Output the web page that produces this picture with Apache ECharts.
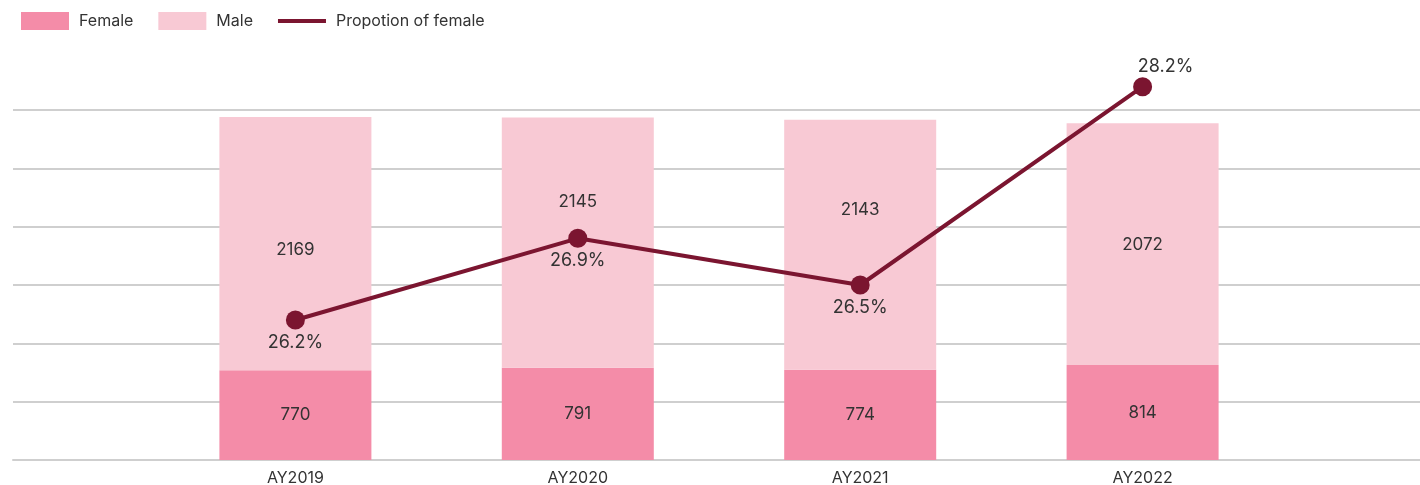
<!DOCTYPE html>
<html>
<head>
<meta charset="utf-8">
<title>Female / Male</title>
<script src="https://cdn.jsdelivr.net/npm/echarts@6/dist/echarts.min.js"></script>
<style>
  html, body { margin: 0; padding: 0; background: #fff; }
  #chart { width: 1420px; height: 485px; }
</style>
</head>
<body>
<div id="chart"></div>
<script>
const years = ['AY2019', 'AY2020', 'AY2021', 'AY2022']
const female = [770, 791, 774, 814]
const male = [2169, 2145, 2143, 2072]
const femaleShare = [26.2, 26.9, 26.5, 28.2]

// male labels are nudged so they don't sit on the line
const maleLabelShift = [6, -41, -35, 1]
const shareLabelPos = ['bottom', 'bottom', 'bottom', 'top']
const shareLabelShift = [[0, 0], [0, 0], [0, 0], [23, 2]]

const font = 'Inter, Liberation Sans, Arial, sans-serif'
const pad = (arr) => ['-', ...arr, '-']

const chart = echarts.init(document.getElementById('chart'))
chart.setOption({
  animation: false,
  textStyle: { fontFamily: font },
  legend: {
    left: 21,
    top: 12,
    padding: 0,
    itemWidth: 48,
    itemHeight: 18,
    itemGap: 25,
    textStyle: { fontSize: 16, color: '#333', padding: [0, 0, 0, 5] },
    data: [
      { name: 'Female', icon: 'rect' },
      { name: 'Male', icon: 'rect' },
      { name: 'Propotion of female', icon: 'path://M0,0 L48,0 L48,4 L0,4 Z' },
    ],
  },
  grid: {
    left: 13,
    right: -5,
    top: 110,
    bottom: 25,
    containLabel: false,
    outerBoundsMode: 'none',
  },
  xAxis: {
    type: 'category',
    boundaryGap: false,
    data: ['', ...years, ''],
    axisLine: { lineStyle: { color: '#cfcfcf', width: 2 } },
    axisTick: { show: false },
    axisLabel: { interval: 0, color: '#333', fontSize: 16, margin: 10 },
  },
  yAxis: [
    {
      type: 'value',
      min: 0,
      max: 3000,
      interval: 500,
      axisLabel: { show: false },
      axisLine: { show: false },
      axisTick: { show: false },
      splitLine: { lineStyle: { color: '#cfcfcf', width: 2 } },
    },
    {
      type: 'value',
      min: 25,
      max: 28,
      show: false,
      splitLine: { show: false },
    },
  ],
  series: [
    {
      name: 'Female',
      type: 'bar',
      stack: 'total',
      barWidth: 152,
      itemStyle: { color: '#f48ca8' },
      label: { show: true, position: 'inside', color: '#333', fontSize: 17 },
      data: pad(female),
    },
    {
      name: 'Male',
      type: 'bar',
      stack: 'total',
      barWidth: 152,
      itemStyle: { color: '#f8c9d4' },
      data: pad(male.map((v, i) => ({
        value: v,
        label: { offset: [0, maleLabelShift[i]] },
      }))),
      label: { show: true, position: 'inside', color: '#333', fontSize: 17 },
    },
    {
      name: 'Propotion of female',
      type: 'line',
      yAxisIndex: 1,
      clip: false,
      symbol: 'circle',
      symbolSize: 19,
      itemStyle: { color: '#7b1530' },
      lineStyle: { color: '#7b1530', width: 4 },
      label: {
        show: true,
        color: '#333',
        fontSize: 18,
        distance: 4,
        formatter: (p) => p.value + '%',
      },
      data: pad(femaleShare.map((v, i) => ({
        value: v,
        label: { position: shareLabelPos[i], offset: shareLabelShift[i] },
      }))),
    },
  ],
})
</script>
</body>
</html>
